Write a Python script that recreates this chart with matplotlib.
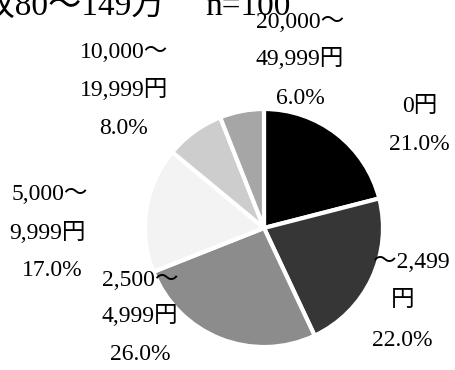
import matplotlib
matplotlib.use("Agg")
import matplotlib.pyplot as plt

# データ（年収80～149万, n=100）
categories = ["0円", "～2,499円", "2,500～4,999円", "5,000～9,999円",
              "10,000～19,999円", "20,000～49,999円"]
label_lines = [["0円", "21.0%"],
               ["～2,499", "円", "22.0%"],
               ["2,500～", "4,999円", "26.0%"],
               ["5,000～", "9,999円", "17.0%"],
               ["10,000～", "19,999円", "8.0%"],
               ["20,000～", "49,999円", "6.0%"]]
shares = [21.0, 22.0, 26.0, 17.0, 8.0, 6.0]
title_left = "年収80～149万"
title_right = "n=100"

# レイアウト（ピクセル座標, 上が0）
W, H = 455, 370
colors = ["#000000", "#363636", "#8c8c8c", "#f3f3f3", "#cdcdcd", "#a6a6a6"]
label_pos = [
    [(420, 107), (419, 145)],
    [(411, 263), (403, 301), (402, 340)],
    [(140, 280), (140, 316), (140, 355)],
    [(50, 195), (48, 233), (52, 270)],
    [(124, 52), (124, 90), (124, 128)],
    [(300, 22), (300, 59), (300, 98)],
]
fonts = ["Liberation Serif", "Noto Sans CJK JP"]

fig = plt.figure(figsize=(W / 100, H / 100), dpi=100)
ax = fig.add_axes([0, 0, 1, 1])
ax.axis("off")

ax.pie(shares, colors=colors, startangle=90, counterclock=False,
       center=(264, H - 228), radius=119,
       wedgeprops=dict(edgecolor="white", linewidth=3))
ax.set_xlim(0, W)
ax.set_ylim(0, H)
ax.set_aspect("equal")

for lines, poss in zip(label_lines, label_pos):
    for s, (x, y) in zip(lines, poss):
        ax.text(x, H - y, s, ha="center", va="center",
                fontsize=17, family=fonts, color="black")

ax.text(165, H - 15, title_left, ha="right", va="baseline", fontsize=24,
        family=fonts, color="black", clip_on=False)
ax.text(205, H - 15, title_right, ha="left", va="baseline", fontsize=24,
        family=fonts, color="black", clip_on=False)

fig.savefig("out.png", dpi=100)
